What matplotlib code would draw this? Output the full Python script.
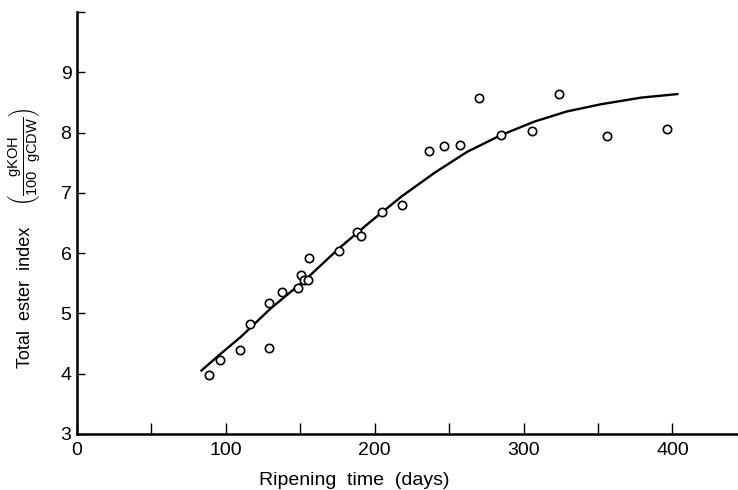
import matplotlib
matplotlib.use("Agg")
import matplotlib.pyplot as plt
from matplotlib.ticker import FixedLocator, FixedFormatter

plt.rcParams['font.family'] = ['Liberation Sans', 'DejaVu Sans']
plt.rcParams['mathtext.fontset'] = 'custom'
plt.rcParams['mathtext.rm'] = 'Liberation Sans'
plt.rcParams['mathtext.default'] = 'regular'

# Observed data points (ripening time in days, total ester index)
days = [89, 96, 109.6, 115.9, 128.7, 129.3, 138, 148.6, 150.2, 152.2, 155.1, 156,
        175.7, 188, 190.5, 205.1, 218, 236.7, 246.3, 257, 270.3, 284.5, 305.5,
        323.7, 356, 396.5]
ester = [3.98, 4.23, 4.40, 4.83, 4.42, 5.18, 5.35, 5.42, 5.64, 5.56, 5.55, 5.92,
         6.04, 6.35, 6.28, 6.68, 6.80, 7.70, 7.77, 7.80, 8.58, 7.96, 8.03,
         8.64, 7.94, 8.06]

# Fitted curve
curve_x = [83, 96, 110, 130, 153, 176, 197, 218, 240, 262, 285, 307, 329, 352,
           379, 404]
curve_y = [4.04, 4.32, 4.61, 5.08, 5.55, 6.08, 6.52, 6.94, 7.33, 7.68, 7.96,
           8.18, 8.35, 8.47, 8.58, 8.64]

x_major = [0, 100, 200, 300, 400]
x_minor = [50, 150, 250, 350]
y_ticks = [3, 4, 5, 6, 7, 8, 9, 10]
y_labels = ['3', '4', '5', '6', '7', '8', '9', '']

fig = plt.figure(figsize=(7.38, 4.90), dpi=100)
ax = fig.add_axes([77/738, 56/490, 661/738, 422/490])

ax.plot(curve_x, curve_y, color='black', lw=1.7, solid_capstyle='butt',
        solid_joinstyle='round', zorder=2)
ax.plot(days, ester, linestyle='none', marker='o', markersize=6,
        markerfacecolor='white', markeredgecolor='black', markeredgewidth=1.2, zorder=3)

ax.set_xlim(0, 444)
ax.set_ylim(3, 10)

ax.xaxis.set_major_locator(FixedLocator(x_major))
ax.xaxis.set_minor_locator(FixedLocator(x_minor))
ax.yaxis.set_major_locator(FixedLocator(y_ticks))
ax.yaxis.set_major_formatter(FixedFormatter(y_labels))

for s in ['top', 'right']:
    ax.spines[s].set_visible(False)
for s in ['left', 'bottom']:
    ax.spines[s].set_linewidth(1.8)

ax.tick_params(axis='x', which='both', direction='in', length=8, width=1.0,
               labelsize=14, pad=6)
ax.tick_params(axis='y', which='major', direction='in', length=6, width=1.0,
               labelsize=14, pad=4)

ax.set_xlabel('Ripening  time  (days)', fontsize=14)
ax.xaxis.set_label_coords(0.42, (434 - 480) / 422)
ax.xaxis.label.set_va('center')

fig.text(26/738, 1 - 297/490, 'Total  ester  index', rotation=90, fontsize=13,
         ha='center', va='center')
fig.text(25/738, 1 - 157/490,
         r'$\left(\frac{\mathrm{gKOH}}{\mathrm{100\ \ gCDW}}\right)$',
         rotation=90, fontsize=15, ha='center', va='center')

fig.savefig('out.png', dpi=100)
